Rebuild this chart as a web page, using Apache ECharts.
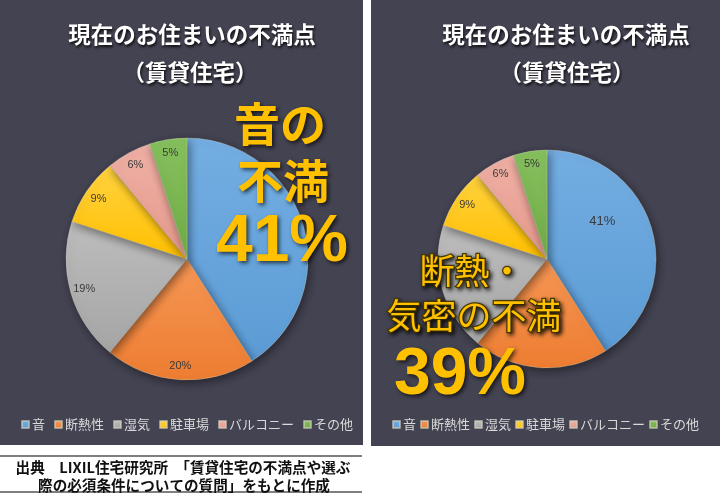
<!DOCTYPE html>
<html>
<head>
<meta charset="utf-8">
<script src="https://cdn.jsdelivr.net/npm/echarts@6/dist/echarts.min.js"></script>
<style>
html,body{margin:0;padding:0;background:#ffffff;}
#chart{width:720px;height:493px;}
</style>
</head>
<body>
<div id="chart"></div>
<script>
// ---- data ----
const categories = ['音', '断熱性', '湿気', '駐車場', 'バルコニー', 'その他'];
const valuesLeft = [41, 20, 19, 9, 6, 5];
const valuesRight = [41, 20, 19, 9, 6, 5];
const showLabelLeft = [false, true, true, true, true, true];
const showLabelRight = [true, false, false, true, true, true];
const sliceColors = ['#5B9BD5', '#ED7D31', '#A5A5A5', '#FFC000', '#E6998C', '#70AD47'];
const sliceColorsLight = ['#74AEE2', '#F59655', '#BDBDBD', '#FFD23F', '#EFB0A5', '#86C05E'];
const titleLine1 = '現在のお住まいの不満点';
const titleLine2 = '（賃貸住宅）';
const calloutLeft = ['音の', '不満', '41%'];
const calloutRight = ['断熱・', '気密の不満', '39%'];
const captionLines = ['出典　LIXIL住宅研究所　「賃貸住宅の不満点や選ぶ', '際の必須条件についての質問」をもとに作成'];

const JP = '"Noto Sans CJK JP", "Noto Sans", sans-serif';
const BG = '#444352';

function grad(i) {
  return new echarts.graphic.LinearGradient(0, 0, 0, 1, [
    { offset: 0, color: sliceColorsLight[i] },
    { offset: 1, color: sliceColors[i] }
  ]);
}

function mainData(values) {
  return categories.map((c, i) => ({
    name: c, value: values[i],
    itemStyle: { color: grad(i) }
  }));
}
function ringData(values, shows) {
  return categories.map((c, i) => ({
    name: c, value: values[i],
    label: { show: shows[i] }
  }));
}

const chart = echarts.init(document.getElementById('chart'), null, { renderer: 'canvas' });

const pieLabel = { color: '#3a3a3a', fontSize: 11, fontFamily: 'Liberation Sans, Arial, sans-serif' };

const option = {
  animation: false,
  color: sliceColors,
  backgroundColor: '#ffffff',
  legend: [
    {
      data: categories, left: 21, top: 418, padding: 0, itemWidth: 7, itemHeight: 7, itemGap: 9,
      icon: 'rect', textStyle: { color: '#d9d9d9', fontSize: 13, fontFamily: JP, padding: [0, 0, 0, -2] },
      selectedMode: false
    },
    {
      data: categories, left: 392, top: 418, padding: 0, itemWidth: 7, itemHeight: 7, itemGap: 4,
      icon: 'rect', textStyle: { color: '#d9d9d9', fontSize: 13, fontFamily: JP, padding: [0, 0, 0, -2] },
      selectedMode: false
    }
  ],
  series: [
    {
      type: 'pie', name: 'left', center: [187, 259], radius: 121, startAngle: 90, clockwise: true,
      label: { show: false }, labelLine: { show: false }, silent: true,
      itemStyle: { borderColor: 'rgba(210,210,190,0.6)', borderWidth: 0.6, shadowBlur: 10, shadowColor: 'rgba(0,0,0,0.45)', shadowOffsetX: 2, shadowOffsetY: 3 },
      data: mainData(valuesLeft)
    },
    {
      type: 'pie', name: 'leftLabels', center: [187, 259], radius: [87, 121], startAngle: 90, clockwise: true,
      silent: true, legendHoverLink: false,
      itemStyle: { color: 'rgba(0,0,0,0)' },
      label: Object.assign({ show: true, position: 'inside', formatter: '{c}%' }, pieLabel),
      labelLine: { show: false },
      data: ringData(valuesLeft, showLabelLeft)
    },
    {
      type: 'pie', name: 'right', center: [547, 259], radius: 109, startAngle: 90, clockwise: true,
      silent: true,
      itemStyle: { borderColor: 'rgba(210,210,190,0.6)', borderWidth: 0.6, shadowBlur: 10, shadowColor: 'rgba(0,0,0,0.45)', shadowOffsetX: 2, shadowOffsetY: 3 },
      label: Object.assign({ show: true, position: 'inside', formatter: '{c}%' }, pieLabel, { fontSize: 13 }),
      labelLine: { show: false },
      labelLayout: function (p) { return p.dataIndex === 0 ? { dy: -22 } : {}; },
      data: categories.map((c, i) => ({
        name: c, value: valuesRight[i],
        itemStyle: { color: grad(i) },
        label: { show: i === 0 }
      }))
    },
    {
      type: 'pie', name: 'rightLabels', center: [547, 259], radius: [78, 109], startAngle: 90, clockwise: true,
      silent: true, legendHoverLink: false,
      itemStyle: { color: 'rgba(0,0,0,0)' },
      label: Object.assign({ show: true, position: 'inside', formatter: '{c}%' }, pieLabel),
      labelLine: { show: false },
      data: ringData(valuesRight, showLabelRight.map((s, i) => s && i !== 0))
    }
  ],
  graphic: []
};

// panels and caption box
const g = option.graphic;
g.push({ type: 'rect', z: -10, shape: { x: 0, y: 0, width: 363, height: 445 }, style: { fill: BG } });
g.push({ type: 'rect', z: -10, shape: { x: 371, y: 0, width: 349, height: 446 }, style: { fill: BG } });
g.push({ type: 'line', shape: { x1: 0, y1: 456, x2: 362, y2: 456 }, style: { stroke: '#555555', lineWidth: 1.5 } });
g.push({ type: 'line', shape: { x1: 0, y1: 492, x2: 362, y2: 492 }, style: { stroke: '#555555', lineWidth: 1.5 } });

function titleText(text, x, y) {
  return {
    type: 'text', z: 50, x: x, y: y,
    style: {
      text: text, align: 'center', verticalAlign: 'middle', fill: '#ffffff',
      font: 'bold 22.5px ' + JP,
      textShadowColor: 'rgba(0,0,0,0.85)', textShadowBlur: 3, textShadowOffsetX: 1, textShadowOffsetY: 2
    }
  };
}
g.push(titleText(titleLine1, 192, 34));
g.push(titleText(titleLine2, 190, 72));
g.push(titleText(titleLine1, 566, 34));
g.push(titleText(titleLine2, 567, 72));

function goldText(text, x, y, font, outlined) {
  const st = {
    text: text, align: 'center', verticalAlign: 'middle', fill: '#FFC000', font: font,
    textShadowColor: 'rgba(0,0,0,0.7)', textShadowBlur: 4, textShadowOffsetX: 2, textShadowOffsetY: 2
  };
  if (outlined) { st.stroke = '#4a3c00'; st.lineWidth = 2.5; }
  return { type: 'text', z: 60, x: x, y: y, style: st };
}
g.push(goldText(calloutLeft[0], 280, 124, 'bold 46px ' + JP));
g.push(goldText(calloutLeft[1], 283, 181, 'bold 46px ' + JP));
g.push(goldText(calloutLeft[2], 282, 243, 'bold 66px "Liberation Sans", Arial, sans-serif'));
g.push(goldText(calloutRight[0], 472, 271, '35px ' + JP, true));
g.push(goldText(calloutRight[1], 474, 316, '35px ' + JP, true));
g.push(goldText(calloutRight[2], 460, 376, 'bold 66px "Liberation Sans", Arial, sans-serif'));

g.push({ type: 'text', x: 183, y: 467, style: { text: captionLines[0], align: 'center', verticalAlign: 'middle', fill: '#111111', font: 'bold 14.6px ' + JP } });
g.push({ type: 'text', x: 184, y: 485, style: { text: captionLines[1], align: 'center', verticalAlign: 'middle', fill: '#111111', font: 'bold 14.6px ' + JP } });

chart.setOption(option);
</script>
</body>
</html>
